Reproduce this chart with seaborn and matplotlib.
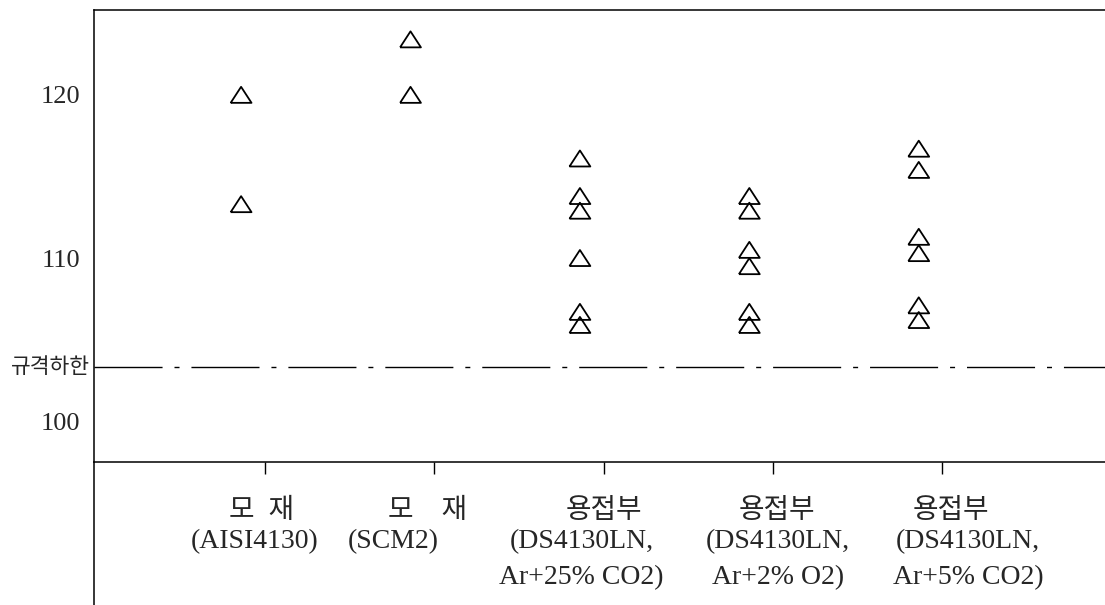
import pandas as pd
import seaborn as sns
import matplotlib.pyplot as plt

# --- data ---
groups = [0, 1, 2, 3, 4]
vals_aisi = [120.0, 113.3]
vals_scm2 = [123.4, 120.0]
vals_co2_25 = [116.1, 113.8, 112.9, 110.0, 106.7, 105.9]
vals_o2_2 = [113.8, 112.9, 110.5, 109.5, 106.7, 105.9]
vals_co2_5 = [116.7, 115.4, 111.3, 110.3, 107.1, 106.2]
spec_limit = 103.3
spec_label = "규격하한"

head_labels = ["모  재", "모    재", "용접부", "용접부", "용접부"]
sub_labels = ["(AISI4130)", "(SCM2)", "(DS4130LN,\nAr+25% CO2)",
              "(DS4130LN,\nAr+2% O2)", "(DS4130LN,\nAr+5% CO2)"]
yticks = [100, 110, 120]

all_vals = [vals_aisi, vals_scm2, vals_co2_25, vals_o2_2, vals_co2_5]
df = pd.DataFrame({
    "group": [g for g, v in zip(groups, all_vals) for _ in v],
    "value": [x for v in all_vals for x in v],
})

# --- layout ---
sns.set_style("white")
plt.rcParams["font.family"] = ["Liberation Serif", "Noto Sans CJK KR", "DejaVu Sans"]

fig = plt.figure(figsize=(11.05, 6.05), dpi=100)
ax = fig.add_axes([0.0851, 0.2364, 0.915, 0.7471])

tri = [(-1.3, -1), (1.3, -1), (0, 1), (-1.3, -1)]
sns.scatterplot(data=df, x="group", y="value", ax=ax, marker=tri, s=225,
                facecolors="none", edgecolor="black", linewidth=1.3,
                legend=False, zorder=3)

ax.axhline(spec_limit, color="black", lw=1.0, ls=(0, (49, 8.6, 3.6, 8.6)))
ax.text(-0.004, spec_limit, spec_label, transform=ax.get_yaxis_transform(),
        ha="right", va="center", fontsize=15.5, family=["Noto Sans CJK KR"])

ax.set_xlim(-0.868, 5.10)
ax.set_ylim(97.5, 125.2)
ax.set_xlabel("")
ax.set_ylabel("")

ax.set_yticks(yticks)
ax.set_yticklabels([str(t) for t in yticks], fontsize=19)
ax.tick_params(axis="y", length=0, pad=10)

ax.set_xticks([g + 0.14 for g in groups])
ax.set_xticklabels([])
ax.tick_params(axis="x", direction="out", length=8.6, width=1.0, color="black",
               bottom=True)

for side in ["left", "bottom", "top"]:
    ax.spines[side].set_color("black")
    ax.spines[side].set_linewidth(1.1)
ax.spines["right"].set_visible(False)

# left axis line continues below the x axis
ax.axvline(ax.get_xlim()[0], ymin=-0.32, ymax=0, color="black", lw=1.1,
           clip_on=False)

# category labels
head_dx = [0.12, 0.10, 0.14, 0.16, 0.19]
sub_dx = [0.08, -0.10, 0.01, 0.17, 0.29]
xt = ax.get_xaxis_transform()
for g, h, s, hd, sd in zip(groups, head_labels, sub_labels, head_dx, sub_dx):
    ax.text(g + hd, -0.11, h, transform=xt, ha="center", va="center",
            fontsize=20, clip_on=False)
    ax.text(g + sd, -0.148, s, transform=xt, ha="center", va="top",
            fontsize=20, linespacing=1.6, multialignment="center",
            clip_on=False)

fig.savefig("out.png", dpi=100)
